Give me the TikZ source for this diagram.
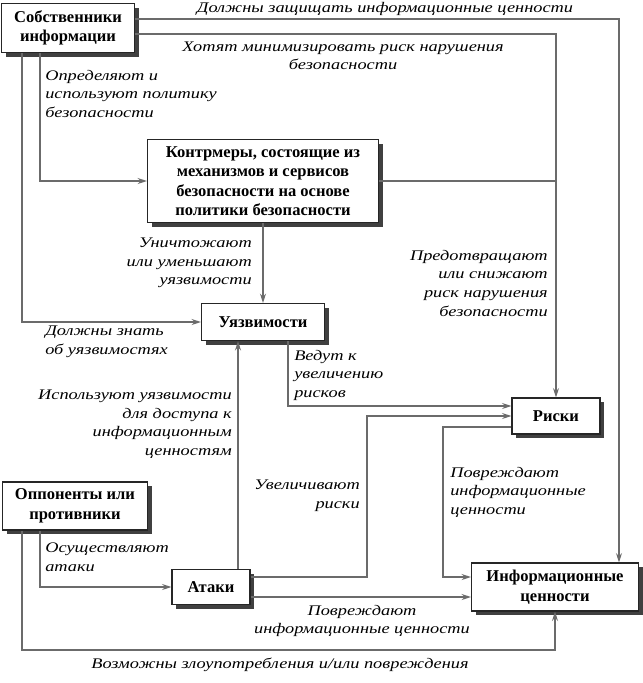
\documentclass[tikz,border=0pt]{standalone}
\usepackage{fontspec}
\setmainfont{Liberation Serif}
\newfontfamily\lblfont{Liberation Serif}[FakeStretch=1.25]
\usepackage{tikz}
\usetikzlibrary{arrows.meta,shadows}

\begin{document}
\begin{tikzpicture}[
      x=0.75pt, y=-0.75pt,
      box/.style={draw=black!85, line width=0.9pt, fill=white, align=center,
        font=\fontsize{12.4}{14.6}\selectfont\bfseries, inner sep=0pt,
        drop shadow={shadow xshift=3pt, shadow yshift=-3pt, fill=black!75, opacity=1}},
      link/.style={draw=black!58, line width=1.1pt},
      arr/.style={link, -{Stealth[length=7pt, width=4.5pt]}},
      lbl/.style={font=\lblfont\itshape\fontsize{11}{13.9}\selectfont, inner sep=0pt}
    ]
    \useasboundingbox[fill=white] (0,0) rectangle (643,683);

    % ══ BOXES ═════════════════════════════════════════════════════════════════
    \node[box, minimum width=133*0.75pt, minimum height=49*0.75pt] (own) at (68,28)
      {Собственники\\информации};
    \node[box, minimum width=231*0.75pt, minimum height=83*0.75pt] (ctr) at (263,181)
      {Контрмеры, состоящие из\\механизмов и сервисов\\безопасности на основе\\политики безопасности};
    \node[box, minimum width=123*0.75pt, minimum height=37*0.75pt] (vul) at (263,322)
      {Уязвимости};
    \node[box, minimum width=88*0.75pt, minimum height=36*0.75pt] (risk) at (556,416)
      {Риски};
    \node[box, minimum width=145*0.75pt, minimum height=48*0.75pt] (opp) at (75,506)
      {Оппоненты или\\противники};
    \node[box, minimum width=78*0.75pt, minimum height=35*0.75pt] (att) at (211,587)
      {Атаки};
    \node[box, minimum width=167*0.75pt, minimum height=48*0.75pt] (asset) at (555,587)
      {Информационные\\ценности};

    % bend points
    \coordinate (topR) at (619,19);
    \coordinate (midR) at (556,34);
    \coordinate (polL) at (40,181);
    \coordinate (knowL) at (22,322);
    \coordinate (vr) at (288,406);
    \coordinate (av) at (238,450);
    \coordinate (ar1) at (367,577);
    \coordinate (ar2) at (367,416);
    \coordinate (aa) at (300,597);
    \coordinate (ra1) at (443,427);
    \coordinate (ra2) at (443,577);
    \coordinate (oa) at (40,587);
    \coordinate (ob) at (22,650);

    % ══ CONNECTORS ════════════════════════════════════════════════════════════
    \draw[arr] (own.east |- topR) -- (topR) -- (topR |- asset.north);
    \draw[arr] (own.east |- midR) -- (midR) -- (risk.north);
    \draw[link] (ctr.east) -- (ctr.east -| midR);
    \draw[arr] (own.south -| polL) -- (polL) -- (ctr.west);
    \draw[arr] (own.south -| knowL) -- (knowL) -- (vul.west);
    \draw[arr] (ctr.south) -- (vul.north);
    \draw[arr] (vul.south -| vr) -- (vr) -- (vr -| risk.west);
    \draw[arr] (att.north -| av) -- (vul.south -| av);
    \draw[arr] (att.east |- ar1) -- (ar1) -- (ar2) -- (risk.west);
    \draw[arr] (att.east |- aa) -- (aa -| asset.west);
    \draw[arr] (risk.west |- ra1) -- (ra1) -- (ra2) -- (ra2 -| asset.west);
    \draw[arr] (opp.south -| oa) -- (oa) -- (att.west);
    \draw[arr] (opp.south -| ob) -- (ob) -- (ob -| asset.south) -- (asset.south);

    % ══ LABELS ════════════════════════════════════════════════════════════════
    \node[lbl] (l1) at (385,9) {Должны защищать информационные ценности};
    \node[lbl, align=center] (l2) at (343,56)
      {Хотят минимизировать риск нарушения\\безопасности};
    \node[lbl, align=left, anchor=north west] (l3) at (45,70)
      {Определяют и\\используют политику\\безопасности};
    \node[lbl, align=right, anchor=north east] (l4) at (252,238)
      {Уничтожают\\или уменьшают\\уязвимости};
    \node[lbl, align=right, anchor=north east] (l5) at (548,250)
      {Предотвращают\\или снижают\\риск нарушения\\безопасности};
    \node[lbl, align=left, anchor=north west] (l6) at (45,326)
      {Должны знать\\об уязвимостях};
    \node[lbl, align=left, anchor=north west] (l7) at (294,350)
      {Ведут к\\увеличению\\рисков};
    \node[lbl, align=right, anchor=north east] (l8) at (232,390)
      {Используют уязвимости\\для доступа к\\информационным\\ценностям};
    \node[lbl, align=right, anchor=north east] (l9) at (360,480)
      {Увеличивают\\риски};
    \node[lbl, align=left, anchor=north west] (l10) at (450,467)
      {Повреждают\\информационные\\ценности};
    \node[lbl, align=left, anchor=north west] (l11) at (45,543)
      {Осуществляют\\атаки};
    \node[lbl, align=center] (l12) at (362,621)
      {Повреждают\\информационные ценности};
    \node[lbl] (l13) at (280,665) {Возможны злоупотребления и/или повреждения};

  \end{tikzpicture}
\end{document}
